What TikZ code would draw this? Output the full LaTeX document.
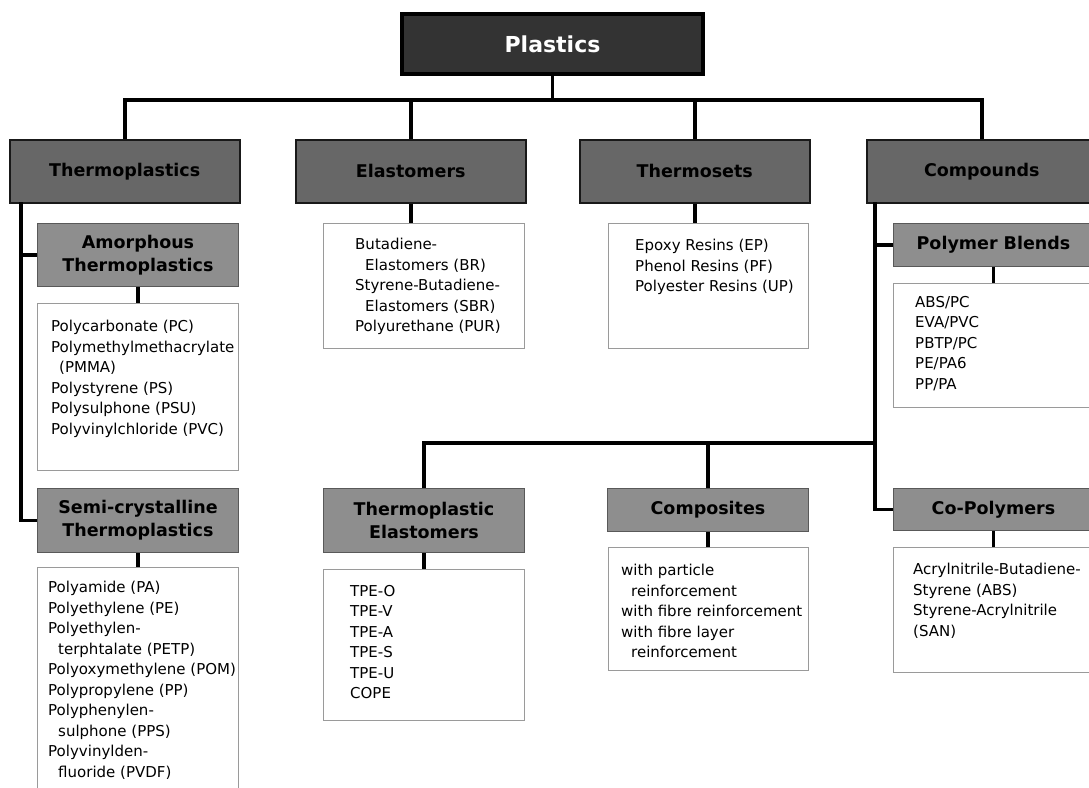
\documentclass[tikz,border=0pt]{standalone}
\usepackage{fontspec}
\setmainfont{DejaVu Sans}
\usepackage{tikz}

\definecolor{topgray}{HTML}{333333}
\definecolor{maingray}{HTML}{676767}
\definecolor{subgray}{HTML}{8E8E8E}
\definecolor{listline}{HTML}{9A9A9A}

\begin{document}
\begin{tikzpicture}[x=1pt,y=-1pt,
  topbox/.style={draw=black,line width=4pt,fill=topgray,text=white,font=\fontsize{22}{26}\selectfont\bfseries,anchor=north west,inner sep=0pt},
  mainbox/.style={draw=black!90,line width=1.5pt,fill=maingray,font=\fontsize{17.5}{23}\selectfont\bfseries,anchor=north west,inner sep=0pt,align=center},
  subbox/.style={draw=black!65,line width=1pt,fill=subgray,font=\fontsize{17.5}{23}\selectfont\bfseries,anchor=north west,inner sep=0pt,align=center},
  listbox/.style={draw=listline,line width=1pt,fill=white,anchor=north west,inner sep=0pt},
  listtext/.style={anchor=north west,inner sep=0pt,align=left,font=\fontsize{15}{20.5}\selectfont},
  link/.style={line width=3.5pt}]
\useasboundingbox (0,0) rectangle (1089,787);
\clip (0,0) rectangle (1089,787);

% top level
\node[topbox,minimum width=301pt,minimum height=60pt] (plastics) at (400,12) {Plastics};

\node[mainbox,minimum width=230pt,minimum height=63pt] (thermo) at (9,139) {Thermoplastics};
\node[mainbox,minimum width=230pt,minimum height=63pt] (elast) at (295,139) {Elastomers};
\node[mainbox,minimum width=230pt,minimum height=63pt] (tset) at (579,139) {Thermosets};
\node[mainbox,minimum width=230pt,minimum height=63pt] (comp) at (866,139) {Compounds};

\coordinate (bus) at (550,100);
\draw[link] (plastics.south) -- (plastics.south |- bus);
\draw[link] (thermo.north) |- (bus) -| (comp.north);
\draw[link] (elast.north) -- (elast.north |- bus);
\draw[link] (tset.north) -- (tset.north |- bus);

% thermoplastics
\node[subbox,minimum width=201pt,minimum height=63pt] (amorph) at (37,223) {Amorphous\\Thermoplastics};
\node[listbox,minimum width=201pt,minimum height=167pt] (amlist) at (37,303) {};
\node[listtext] (amtext) at (51,320) {Polycarbonate (PC)\\Polymethylmethacrylate\\\hspace*{8pt}(PMMA)\\Polystyrene (PS)\\Polysulphone (PSU)\\Polyvinylchloride (PVC)};
\node[subbox,minimum width=201pt,minimum height=64pt] (semi) at (37,488) {Semi-crystalline\\Thermoplastics};
\node[listbox,minimum width=201pt,minimum height=240pt] (semilist) at (37,567) {};
\node[listtext] (semitext) at (48,581) {Polyamide (PA)\\Polyethylene (PE)\\Polyethylen-\\\hspace*{10pt}terphtalate (PETP)\\Polyoxymethylene (POM)\\Polypropylene (PP)\\Polyphenylen-\\\hspace*{10pt}sulphone (PPS)\\Polyvinylden-\\\hspace*{10pt}fluoride (PVDF)};

\coordinate (tspine) at (21,202);
\draw[link] (tspine) |- (semi.west);
\draw[link] (tspine |- amorph.west) -- (amorph.west);
\draw[link] (amorph.south) -- (amlist.north);
\draw[link] (semi.south) -- (semilist.north);

% elastomers, thermosets
\node[listbox,minimum width=201pt,minimum height=125pt] (ellist) at (323,223) {};
\node[listtext] (eltext) at (355,238) {Butadiene-\\\hspace*{10pt}Elastomers (BR)\\Styrene-Butadiene-\\\hspace*{10pt}Elastomers (SBR)\\Polyurethane (PUR)};
\draw[link] (elast.south) -- (elast.south |- ellist.north);

\node[listbox,minimum width=200pt,minimum height=125pt] (tslist) at (608,223) {};
\node[listtext] (tstext) at (635,239) {Epoxy Resins (EP)\\Phenol Resins (PF)\\Polyester Resins (UP)};
\draw[link] (tset.south) -- (tset.south |- tslist.north);

% compounds
\node[subbox,minimum width=200pt,minimum height=43pt] (pblend) at (893,223) {Polymer Blends};
\node[listbox,minimum width=200pt,minimum height=124pt] (pblist) at (893,283) {};
\node[listtext] (pbtext) at (915,296) {ABS/PC\\EVA/PVC\\PBTP/PC\\PE/PA6\\PP/PA};
\draw[link] (pblend.south) -- (pblist.north);

\node[subbox,minimum width=201pt,minimum height=64pt] (tpe) at (323,488) {Thermoplastic\\Elastomers};
\node[listbox,minimum width=201pt,minimum height=151pt] (tpelist) at (323,569) {};
\node[listtext] (tpetext) at (350,585) {TPE-O\\TPE-V\\TPE-A\\TPE-S\\TPE-U\\COPE};
\draw[link] (tpe.south) -- (tpelist.north);

\node[subbox,minimum width=201pt,minimum height=43pt] (compo) at (607,488) {Composites};
\node[listbox,minimum width=200pt,minimum height=123pt] (complist) at (608,547) {};
\node[listtext] (comptext) at (621,564) {with particle\\\hspace*{10pt}reinforcement\\with fibre reinforcement\\with fibre layer\\\hspace*{10pt}reinforcement};
\draw[link] (compo.south) -- (compo.south |- complist.north);

\node[subbox,minimum width=200pt,minimum height=42pt] (copoly) at (893,488) {Co-Polymers};
\node[listbox,minimum width=200pt,minimum height=125pt] (colist) at (893,547) {};
\node[listtext] (cotext) at (913,563) {Acrylnitrile-Butadiene-\\Styrene (ABS)\\Styrene-Acrylnitrile\\(SAN)};
\draw[link] (copoly.south) -- (colist.north);

\coordinate (cspine) at (875,202);
\coordinate (bus2) at (875,443);
\draw[link] (cspine) |- (copoly.west);
\draw[link] (cspine |- pblend.west) -- (pblend.west);
\draw[link] (tpe.north) |- (bus2);
\draw[link] (compo.north) -- (compo.north |- bus2);
\end{tikzpicture}
\end{document}
